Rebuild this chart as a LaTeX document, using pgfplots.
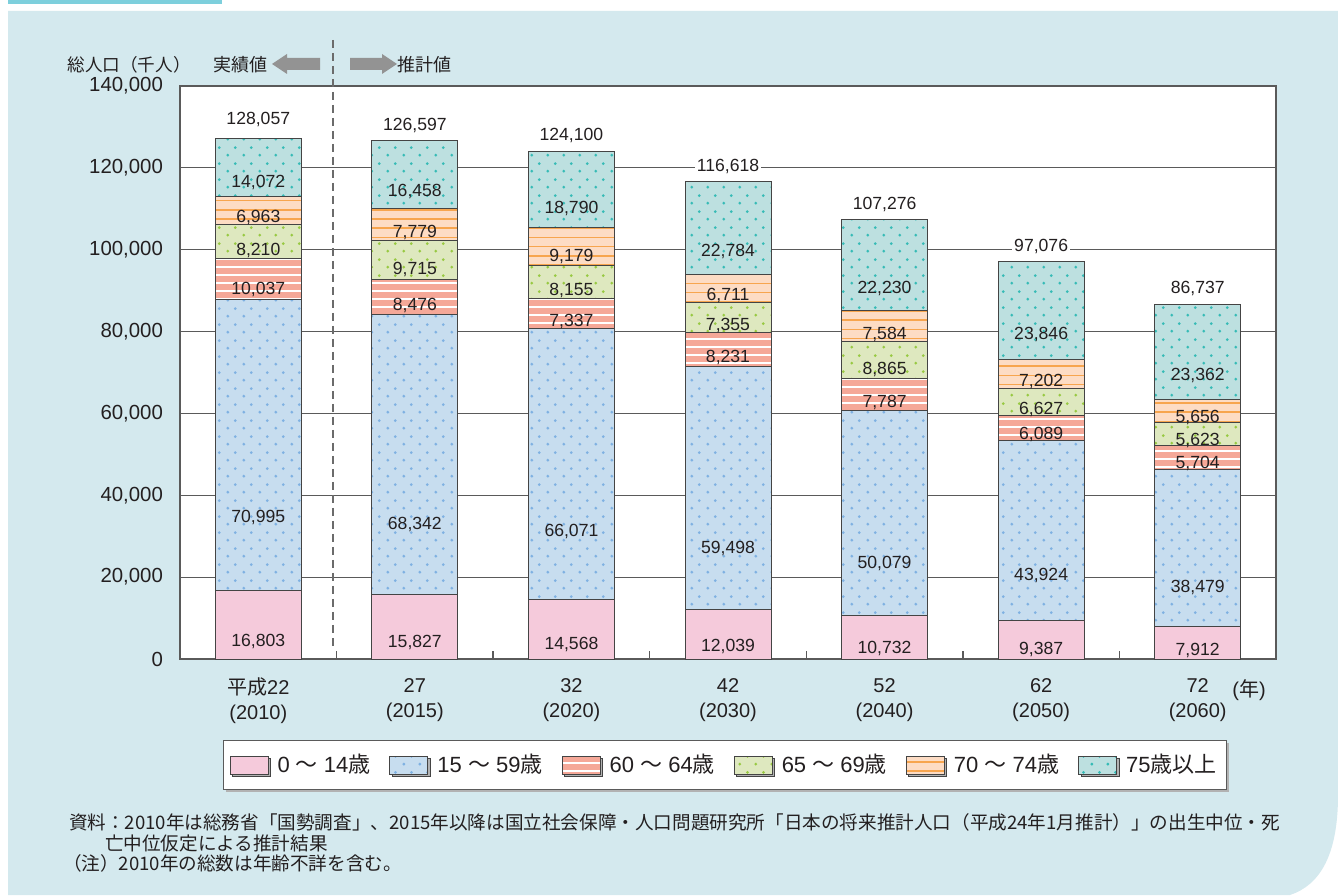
\documentclass[border=0pt]{standalone}
\usepackage{pgfplots}
\pgfplotsset{compat=1.18}
\usepackage{pgfplotstable}
\usetikzlibrary{patterns.meta,shadows}
\usepackage{fontspec}
\setmainfont{Liberation Sans}
\newfontfamily\cjk{Noto Sans CJK JP}

\definecolor{pinkc}{HTML}{F5CADB}
\definecolor{bluec}{HTML}{C7DDEF}
\definecolor{bluedot}{HTML}{7FB1E2}
\definecolor{salc}{HTML}{F5A898}
\definecolor{greenc}{HTML}{DEE8BF}
\definecolor{greendot}{HTML}{98C942}
\definecolor{peachc}{HTML}{FDDCC4}
\definecolor{peachln}{HTML}{F7A54E}
\definecolor{tealc}{HTML}{BDE0E0}
\definecolor{tealdot}{HTML}{36BBB6}
\definecolor{panel}{HTML}{D4E9EE}
\definecolor{strip}{HTML}{7DCFDC}
\definecolor{arrowg}{HTML}{939393}
\definecolor{gridc}{HTML}{5A5A5A}
\definecolor{barline}{HTML}{444444}
\definecolor{txt}{HTML}{231F20}

\tikzdeclarepattern{name=sdots, type=uncolored,
  bounding box={(0pt,0pt) and (8pt,8pt)}, tile size={(8pt,8pt)},
  code={\pgfpathcircle{\pgfpoint{2pt}{2pt}}{0.8pt}\pgfpathcircle{\pgfpoint{6pt}{6pt}}{0.8pt}\pgfusepath{fill}}}
\tikzdeclarepattern{name=hln, type=uncolored,
  bounding box={(-1pt,0pt) and (5pt,4pt)}, tile size={(4pt,4pt)},
  code={\pgfpathrectangle{\pgfpoint{-1pt}{1.6pt}}{\pgfpoint{6pt}{0.75pt}}\pgfusepath{fill}}}
\tikzdeclarepattern{name=hlnb, type=uncolored,
  bounding box={(-1pt,0pt) and (5pt,4.6pt)}, tile size={(4pt,4.6pt)},
  code={\pgfpathrectangle{\pgfpoint{-1pt}{1.8pt}}{\pgfpoint{6pt}{0.8pt}}\pgfusepath{fill}}}

\pgfkeys{/pgf/number format/.cd,fixed,precision=0,1000 sep={,},assume math mode=true}

% the shift style is applied twice by pgfplots, so a quarter of the segment height per application
\tikzset{segshift/.code={%
  \pgfmathprintnumberto[fixed,precision=0,1000 sep={},assume math mode=true]{\pgfplotspointmeta}{\segh}%
  \tikzset{yshift=-\the\dimexpr\segh sp*335286/10000\relax}}}

\pgfplotstableread{
x a b c d e f t
0 16803 70995 10037 8210 6963 14072 128057
1 15827 68342 8476 9715 7779 16458 126597
2 14568 66071 7337 8155 9179 18790 124100
3 12039 59498 8231 7355 6711 22784 116618
4 10732 50079 7787 8865 7584 22230 107276
5 9387 43924 6089 6627 7202 23846 97076
6 7912 38479 5704 5623 5656 23362 86737
}\popdata

\pgfplotsset{
  seg/.style={
    draw=barline, line width=0.5pt,
    nodes near coords={\pgfmathprintnumber[fixed,precision=0]{\pgfplotspointmeta}},
    point meta=\thisrow{#1},
    every node near coord/.style={anchor=center, font=\fontsize{8.8}{10}\selectfont, text=txt, segshift},
  },
  frame/.style={
    at={(90pt,118pt)}, anchor=south west,
    scale only axis, width=548pt, height=286.5pt,
    xmin=-0.5, xmax=6.5, ymin=0, ymax=140000, enlargelimits=false,
  }
}

\begin{document}
\begin{tikzpicture}
\begin{scope}[x=0.5pt,y=0.5pt]
\useasboundingbox (0,0) rectangle (1338,895);
\fill[white] (0,0) rectangle (1338,895);
\fill[strip] (8,891) rectangle (222,895);
\fill[panel] (8,884) -- (1338,884) -- (1338,100) .. controls (1338,40) and (1320,10) .. (1290,0) -- (8,0) -- cycle;
\end{scope}

\begin{axis}[
  frame,
  ybar stacked, bar width=43pt,
  axis background/.style={fill=white},
  axis line style={gridc, line width=0.7pt},
  ytick={0,20000,...,140000}, scaled y ticks=false,
  yticklabel={\pgfmathprintnumber[fixed,precision=0]{\tick}},
  ymajorgrids, major grid style={gridc, line width=0.6pt},
  xtick={0,...,6},
  xticklabels={{{\cjk 平成}22\\(2010)},{27\\(2015)},{32\\(2020)},{42\\(2030)},{52\\(2040)},{62\\(2050)},{72\\(2060)}},
  minor xtick={0.5,1.5,...,5.5},
  tick pos=left, tick align=inside,
  major tick length=0pt, minor tick length=4pt,
  minor tick style={gridc, line width=0.7pt},
  yticklabel style={font=\fontsize{10.2}{12}\selectfont, text=txt, xshift=-5pt},
  xticklabel style={align=center, font=\fontsize{10}{12.5}\selectfont, text=txt, yshift=-6pt},
  legend image code/.code={\draw[#1] (0pt,-4.5pt) rectangle (19pt,4.5pt);},
  legend style={at={(0.4973,-0.185)}, anchor=center, legend columns=6,
    draw=gridc, line width=0.5pt, fill=white, font=\fontsize{11}{12}\selectfont, text=txt,
    inner xsep=3pt, inner ysep=5pt,
    /tikz/every odd column/.append style={column sep=2.5pt},
    /tikz/every even column/.append style={column sep=7.5pt},
    drop shadow={shadow xshift=1.2pt, shadow yshift=-1.2pt, fill=gray!60, opacity=1}},
  clip=false,
]
\addplot[seg=a, fill=pinkc] table[x=x,y=a] {\popdata};
\addplot[seg=b, fill=bluec, postaction={pattern=sdots, pattern color=bluedot}] table[x=x,y=b] {\popdata};
\addplot[seg=c, fill=salc, postaction={pattern=hln, pattern color=white}] table[x=x,y=c] {\popdata};
\addplot[seg=d, fill=greenc, postaction={pattern=sdots, pattern color=greendot}] table[x=x,y=d] {\popdata};
\addplot[seg=e, fill=peachc, postaction={pattern=hlnb, pattern color=peachln}] table[x=x,y=e] {\popdata};
\addplot[seg=f, fill=tealc, postaction={pattern=sdots, pattern color=tealdot}] table[x=x,y=f] {\popdata};
\legend{0 {\cjk ～} 14{\cjk 歳}, 15 {\cjk ～} 59{\cjk 歳}, 60 {\cjk ～} 64{\cjk 歳}, 65 {\cjk ～} 69{\cjk 歳}, 70 {\cjk ～} 74{\cjk 歳}, 75{\cjk 歳以上}}
\end{axis}

\begin{axis}[frame, hide axis, clip=false]
\addplot[only marks, mark=*, mark size=0pt, mark options={draw=none, fill=none},
  nodes near coords={\pgfmathprintnumber[fixed,precision=0]{\pgfplotspointmeta}},
  point meta=\thisrow{t},
  every node near coord/.style={anchor=south, yshift=3pt, inner sep=1pt, fill=white, font=\fontsize{8.8}{10}\selectfont, text=txt}]
  table[x=x,y=t] {\popdata};
\end{axis}

\begin{scope}[x=0.5pt,y=0.5pt]
\draw[gridc!90, line width=0.6pt, dash pattern=on 4pt off 2.5pt] (333,855) -- (333,245);
\node[font=\cjk\fontsize{8.8}{10}\selectfont, text=txt] at (129,830) {総人口（千人）};
\node[font=\cjk\fontsize{9}{10}\selectfont, text=txt] at (240,830) {実績値};
\node[font=\cjk\fontsize{9}{10}\selectfont, text=txt] at (424,830) {推計値};
\fill[arrowg] (272,831) -- (287,841) -- (287,837) -- (320,837) -- (320,825) -- (287,825) -- (287,821) -- cycle;
\fill[arrowg] (397,831) -- (382,841) -- (382,837) -- (350,837) -- (350,825) -- (382,825) -- (382,821) -- cycle;
\node[font=\fontsize{10}{12}\selectfont, text=txt] at (1249,205) {({\cjk 年})};
\node[anchor=west, font=\cjk\fontsize{9.3}{11}\selectfont, text=txt] at (62,73) {資料：2010年は総務省「国勢調査」、2015年以降は国立社会保障・人口問題研究所「日本の将来推計人口（平成24年1月推計）」の出生中位・死};
\node[anchor=west, font=\cjk\fontsize{9.3}{11}\selectfont, text=txt] at (98,52) {亡中位仮定による推計結果};
\node[anchor=west, font=\cjk\fontsize{9.3}{11}\selectfont, text=txt] at (56,32) {（注）2010年の総数は年齢不詳を含む。};
\end{scope}
\end{tikzpicture}
\end{document}
